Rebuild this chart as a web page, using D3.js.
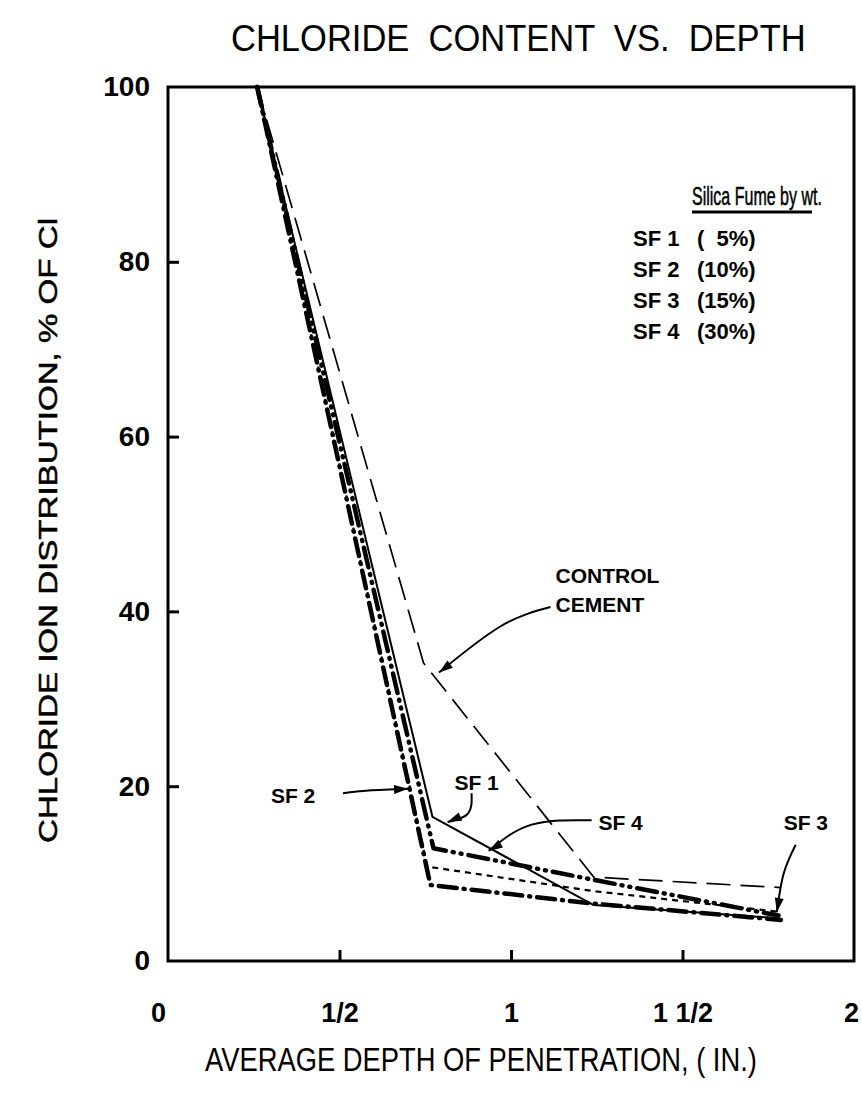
<!DOCTYPE html>
<html><head><meta charset="utf-8">
<script src="https://cdn.jsdelivr.net/npm/d3@7"></script>
<style>body{margin:0;background:#fff}svg{display:block}</style>
</head><body>
<script>
// ---- data ----
const xTicks = [0, 0.5, 1, 1.5, 2];
const xTickLabels = ["0", "1/2", "1", "1 1/2", "2"];
const yTicks = [0, 20, 40, 60, 80, 100];

const controlDepth = [0.26, 0.745, 1.241, 1.787];
const controlCl    = [100, 34.1, 9.6, 8.4];
const sf1Depth = [0.26, 0.771, 1.241, 1.778];
const sf1Cl    = [100, 16.5, 6.4, 4.9];
const sf2Depth = [0.26, 0.765, 1.232, 1.787];
const sf2Cl    = [100, 8.7, 6.6, 4.7];
const sf3Depth = [0.26, 0.756, 1.24, 1.787];
const sf3Cl    = [100, 10.8, 8.0, 5.6];
const sf4Depth = [0.26, 0.774, 1.24, 1.78];
const sf4Cl    = [100, 12.9, 9.3, 5.2];

const legendNames = ["SF 1", "SF 2", "SF 3", "SF 4"];
const legendPct   = ["(  5%)", "(10%)", "(15%)", "(30%)"];

const W = 862, H = 1098;
const x = d3.scaleLinear().domain([0, 2]).range([168, 854]);
const y = d3.scaleLinear().domain([0, 100]).range([961, 87]);

const svg = d3.select("body").append("svg").attr("width", W).attr("height", H);
const sans = "'Liberation Sans',Arial,Helvetica,sans-serif";

// text squeezed horizontally to a target width (condensed look)
function fitText(parent, tx, ty, width, size, str, extra) {
  const g = parent.append("g");
  const t = g.append("text").attr("x", 0).attr("y", 0).attr("font-family", sans).attr("font-size", size)
    .attr("fill", "#000").style("white-space", "pre").text(str);
  if (extra) extra(t);
  const nat = t.node().getComputedTextLength();
  g.attr("transform", `translate(${tx},${ty}) scale(${width / nat},1)`);
  return t;
}

// title
fitText(svg, 231, 51, 575, 37, "CHLORIDE  CONTENT  VS.  DEPTH");

// frame
svg.append("rect").attr("x", x(0)).attr("y", y(100)).attr("width", x(2) - x(0)).attr("height", y(0) - y(100))
  .attr("fill", "none").attr("stroke", "#000").attr("stroke-width", 3);

// axes (inward ticks)
const yAxis = d3.axisLeft(y).tickValues(yTicks).tickSizeInner(-11).tickSizeOuter(0).tickPadding(18)
  .tickFormat(d3.format("d"));
const gy = svg.append("g").attr("transform", `translate(${x(0)},0)`).call(yAxis);
gy.select(".domain").remove();
gy.selectAll(".tick line").attr("stroke-width", 3).filter(d => d === 0 || d === 100).remove();
gy.selectAll(".tick text").attr("font-family", sans).attr("font-weight", "bold").attr("font-size", 28).attr("fill", "#000");

const xAxis = d3.axisBottom(x).tickValues(xTicks).tickSizeInner(-11).tickSizeOuter(0).tickPadding(42)
  .tickFormat((d, i) => xTickLabels[i]);
const gx = svg.append("g").attr("transform", `translate(0,${y(0)})`).call(xAxis);
gx.select(".domain").remove();
gx.selectAll(".tick line").attr("stroke-width", 3).filter(d => d === 0 || d === 2).remove();
gx.selectAll(".tick text").attr("font-family", sans).attr("font-weight", "bold").attr("font-size", 27).attr("fill", "#000");
gx.selectAll(".tick").filter(d => d === 0).select("text").attr("dx", -10);
gx.selectAll(".tick").filter(d => d === 2).select("text").attr("dx", -3);

// axis titles
fitText(svg, 205, 1071, 552, 33, "AVERAGE DEPTH OF PENETRATION, ( IN.)");
svg.append("text").attr("transform", "translate(57,843) rotate(-90)").attr("textLength", 625).attr("lengthAdjust", "spacingAndGlyphs")
  .attr("font-family", sans).attr("font-size", 26).attr("fill", "#000").attr("stroke", "#000").attr("stroke-width", 0.5)
  .text("CHLORIDE ION DISTRIBUTION, % OF Cl");

// series
const series = [
  {xs: controlDepth, ys: controlCl, w: 1.7, dash: "24,10", cap: "butt"},
  {xs: sf1Depth, ys: sf1Cl, w: 2, dash: null, cap: "butt"},
  {xs: sf3Depth, ys: sf3Cl, w: 2.2, dash: "6,5", cap: "butt"},
  {xs: sf4Depth, ys: sf4Cl, w: 4.5, dash: "20,7,1,7,1,7", cap: "round"},
  {xs: sf2Depth, ys: sf2Cl, w: 4.5, dash: "18,7,1,7", cap: "round"}
];
const line = d3.line().x(d => x(d[0])).y(d => y(d[1]));
series.forEach(s => {
  svg.append("path").datum(s.xs.map((v, i) => [v, s.ys[i]]))
    .attr("d", line).attr("fill", "none").attr("stroke", "#000")
    .attr("stroke-width", s.w).attr("stroke-dasharray", s.dash).attr("stroke-linecap", s.cap)
    .attr("stroke-linejoin", "round");
});

// annotations (positions in data units)
const annotations = [
  {lines: ["CONTROL", "CEMENT"], tx: 1.13, ty: 43.3, path: [[1.115, 40.5], [0.97, 38.3], [0.79, 33.0]]},
  {lines: ["SF 2"], tx: 0.3, ty: 18.1, path: [[0.51, 19.2], [0.585, 19.5], [0.70, 19.7]]},
  {lines: ["SF 1"], tx: 0.835, ty: 19.6, path: [[0.885, 19.2], [0.875, 16.9], [0.815, 15.9]]},
  {lines: ["SF 4"], tx: 1.255, ty: 15.0, path: [[1.235, 16.1], [1.06, 15.6], [0.935, 12.6]]},
  {lines: ["SF 3"], tx: 1.795, ty: 15.0, path: [[1.83, 13.3], [1.795, 10.0], [1.775, 5.6]]}
];
const curve = d3.line().x(d => x(d[0])).y(d => y(d[1])).curve(d3.curveNatural);
annotations.forEach(a => {
  a.lines.forEach((t, i) => {
    svg.append("text").attr("x", x(a.tx)).attr("y", y(a.ty) + i * 29)
      .attr("font-family", sans).attr("font-weight", "bold").attr("font-size", 21).attr("fill", "#000").text(t);
  });
  svg.append("path").datum(a.path).attr("d", curve).attr("fill", "none")
    .attr("stroke", "#000").attr("stroke-width", 2);
  const p1 = a.path[a.path.length - 2], p2 = a.path[a.path.length - 1];
  const ex = x(p2[0]), ey = y(p2[1]);
  const ang = Math.atan2(ey - y(p1[1]), ex - x(p1[0]));
  const L = 14, Wd = 4.5;
  const bx = ex - L * Math.cos(ang), by = ey - L * Math.sin(ang);
  svg.append("path")
    .attr("d", `M${ex},${ey}L${bx + Wd * Math.sin(ang)},${by - Wd * Math.cos(ang)}L${bx - Wd * Math.sin(ang)},${by + Wd * Math.cos(ang)}Z`)
    .attr("fill", "#000");
});

// legend
const lg = svg.append("g");
fitText(lg, 692, 205, 130, 25, "Silica Fume by wt.", t => t.attr("stroke", "#000").attr("stroke-width", 0.5));
lg.append("line").attr("x1", 692).attr("x2", 812).attr("y1", 212).attr("y2", 212).attr("stroke", "#000").attr("stroke-width", 3);
legendNames.forEach((n, i) => {
  lg.append("text").attr("x", 633).attr("y", 246 + i * 31).attr("font-family", sans).attr("font-weight", "bold")
    .attr("font-size", 22).attr("fill", "#000").text(n);
  lg.append("text").attr("x", 697).attr("y", 246 + i * 31).attr("font-family", sans).attr("font-weight", "bold")
    .attr("font-size", 22).attr("fill", "#000")
    .style("white-space", "pre").text(legendPct[i]);
});
</script>
</body></html>
